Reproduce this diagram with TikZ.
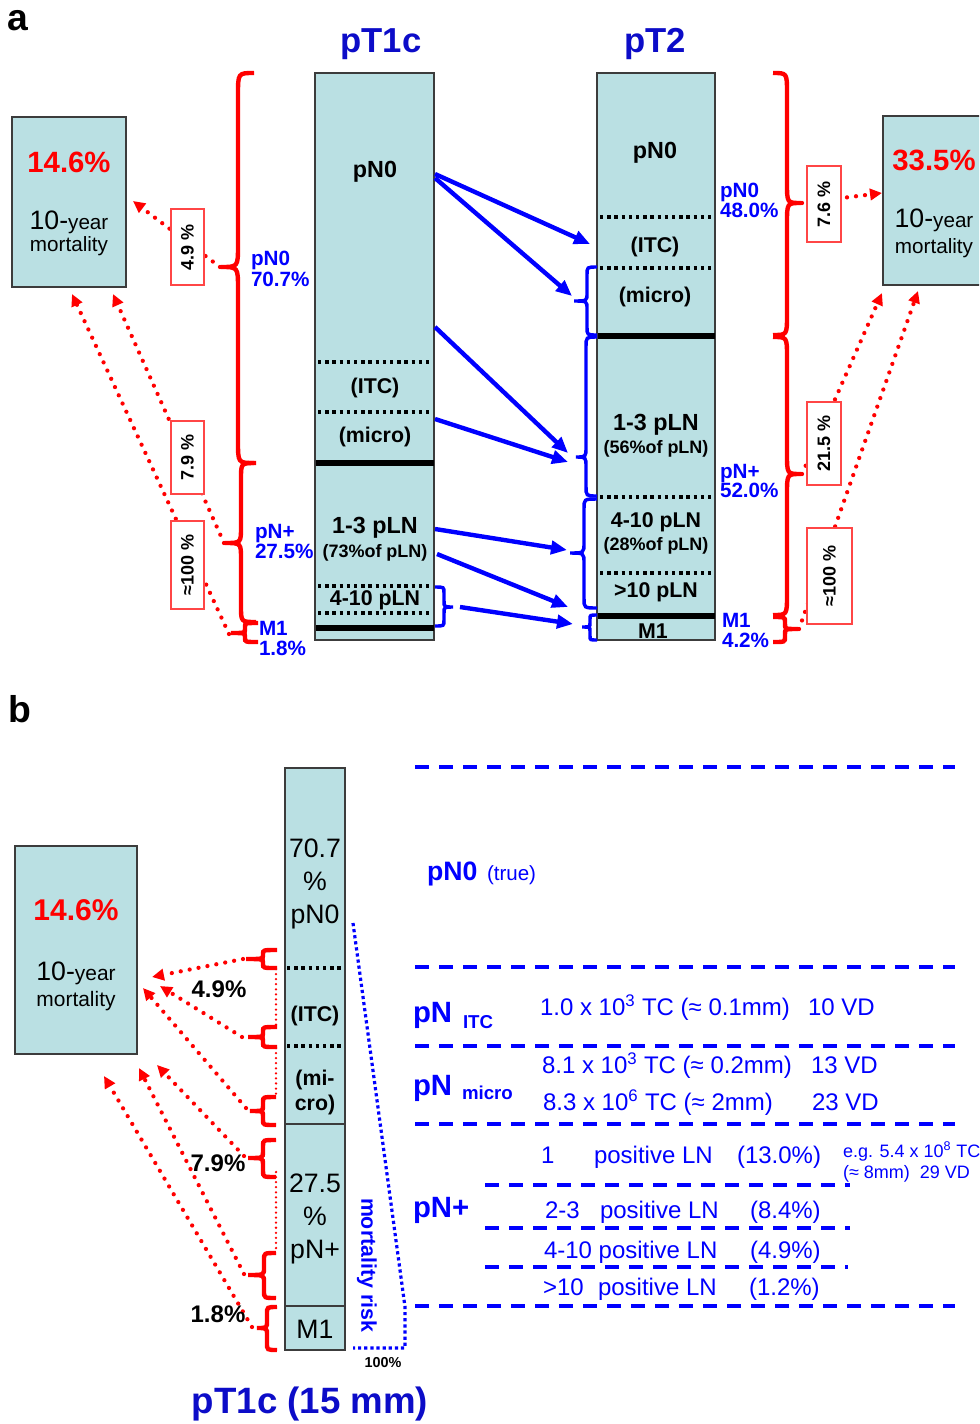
\documentclass[tikz,border=0pt]{standalone}
\usepackage{fontspec}
\setmainfont{Liberation Sans}
\usetikzlibrary{arrows.meta}
\definecolor{teal1}{RGB}{186,224,227}
\definecolor{bordg}{RGB}{60,60,60}
\definecolor{tblue}{RGB}{12,12,200}
\definecolor{rbord}{RGB}{255,70,70}
\newcommand{\fsz}[1]{\fontsize{#1}{#1}\selectfont}
\newcommand{\bracepath}[7]{(#1,#4) .. controls (#2,#4) .. (#2,{#4+#7}) -- (#2,{#5-#7}) .. controls (#2,#5) .. (#3,#5) .. controls (#2,#5) .. (#2,{#5+#7}) -- (#2,{#6-#7}) .. controls (#2,#6) .. (#1,#6)}
\tikzset{
  colbox/.style={draw=bordg, line width=0.9pt, fill=teal1, anchor=north west},
  seg/.style={anchor=base, font=\bfseries\fsz{16}},
  segbig/.style={anchor=base, font=\bfseries\fsz{17.5}},
  segsmall/.style={anchor=base, font=\bfseries\fsz{13.5}},
  segb/.style={anchor=base, font=\fsz{20}},
  septhick/.style={line width=4.5pt, black},
  septhin/.style={line width=0.9pt, bordg},
  sepdot/.style={line width=2.6pt, black, dash pattern=on 2.6pt off 2.8pt},
  bluelbl/.style={anchor=base west, text=blue, font=\bfseries\fsz{15.5}},
  redbrace/.style={draw=red, line width=3.3pt},
  bluebrace/.style={draw=blue, line width=2.6pt},
  barrow/.style={draw=blue, line width=3.3pt, -{Triangle[length=12pt,width=10pt]}},
  rdot/.style={draw=red, line width=3.2pt, line cap=round, dash pattern=on 0pt off 6.8pt, -{Triangle[length=9pt,width=8.5pt]}},
  rdotthin/.style={draw=red, line width=1.9pt, line cap=round, dash pattern=on 0pt off 3.8pt},
  rbox/.style={draw=rbord, line width=0.8pt, fill=white, rotate=90, font=\bfseries\fsz{13.5}},
  pct/.style={anchor=base, text=red, font=\bfseries\fsz{22}},
  mort/.style={anchor=base, font=\fsz{15.5}},
  bdash/.style={draw=blue, line width=2.5pt, dash pattern=on 10.5pt off 7.5pt},
  btxt/.style={anchor=base west, text=blue, font=\fsz{18}},
  bsmall/.style={anchor=base west, text=blue, font=\fsz{13.5}},
  bhead/.style={anchor=base west, text=blue, font=\bfseries\fsz{22}},
  bsub/.style={anchor=base west, text=blue, font=\bfseries\fsz{14}},
  blabel/.style={anchor=base, font=\bfseries\fsz{18}},
}
\begin{document}
\begin{tikzpicture}[x=0.75pt,y=-0.75pt, every node/.style={inner sep=0pt, outer sep=0pt}]
\useasboundingbox (0,0) rectangle (979,1424);
\clip (0,0) rectangle (979,1424);

% ================= panel a =================
\node (la) [anchor=base, font=\bfseries\fsz{28}] at (18,31) {a};
\node (tA) [anchor=base, text=tblue, font=\bfseries\fsz{26}] at (381,52) {pT1c};
\node (tB) [anchor=base, text=tblue, font=\bfseries\fsz{26}] at (655,52) {pT2};

\node (c1) [colbox, minimum width=89.25pt, minimum height=425.25pt] at (315,73) {};
\node (c2) [colbox, minimum width=88.5pt, minimum height=425.25pt] at (597,73) {};

\draw[sepdot] (318,362) -- (433,362);
\draw[sepdot] (318,412) -- (433,412);
\draw[septhick] (316,463) -- (434,463);
\draw[sepdot] (318,586) -- (433,586);
\draw[sepdot] (318,613) -- (433,613);
\draw[septhick] (316,628) -- (434,628);

\draw[sepdot] (600,217) -- (714,217);
\draw[sepdot] (600,268) -- (714,268);
\draw[septhick] (598,336) -- (715,336);
\draw[sepdot] (600,497) -- (714,497);
\draw[sepdot] (600,573) -- (714,573);
\draw[septhick] (598,616) -- (715,616);

\node (c1a) [segbig] at (375,177) {pN0};
\node (c1b) [seg] at (375,393) {(ITC)};
\node (c1c) [seg] at (375,442) {(micro)};
\node (c1d) [segbig] at (375,533) {1-3 pLN};
\node (c1e) [segsmall] at (375,557) {(73\%of pLN)};
\node (c1f) [seg] at (375,605) {4-10 pLN};

\node (c2a) [segbig] at (655,158) {pN0};
\node (c2b) [seg] at (655,252) {(ITC)};
\node (c2c) [seg] at (655,302) {(micro)};
\node (c2d) [segbig] at (656,430) {1-3 pLN};
\node (c2e) [segsmall] at (656,453) {(56\%of pLN)};
\node (c2f) [seg] at (656,527) {4-10 pLN};
\node (c2g) [segsmall] at (656,550) {(28\%of pLN)};
\node (c2h) [seg] at (656,597) {>10 pLN};
\node (c2i) [seg] at (653,638) {M1};

% mortality boxes
\node (mL) [colbox, minimum width=85.5pt, minimum height=127.5pt] at (12,117) {};
\node (mLp) [pct] at (69,172) {14.6\%};
\node (mLy) [anchor=base] at (69,229) {\fsz{20}10-\fsz{15.5}year};
\node (mLm) [mort] at (69,251) {mortality};

\node (mR) [colbox, minimum width=85.5pt, minimum height=126.75pt] at (883,116) {};
\node (mRp) [pct] at (934,170) {33.5\%};
\node (mRy) [anchor=base] at (934,227) {\fsz{20}10-\fsz{15.5}year};
\node (mRm) [mort] at (934,253) {mortality};

% blue labels
\node (l1a) [bluelbl] at (251,265) {pN0};
\node (l1b) [bluelbl] at (251,286) {70.7\%};
\node (l2a) [bluelbl] at (255,538) {pN+};
\node (l2b) [bluelbl] at (255,558) {27.5\%};
\node (l3a) [bluelbl] at (259,635) {M1};
\node (l3b) [bluelbl] at (259,655) {1.8\%};
\node (r1a) [bluelbl] at (720,197) {pN0};
\node (r1b) [bluelbl] at (720,217) {48.0\%};
\node (r2a) [bluelbl] at (720,478) {pN+};
\node (r2b) [bluelbl] at (720,497) {52.0\%};
\node (r3a) [bluelbl] at (722,627) {M1};
\node (r3b) [bluelbl] at (722,647) {4.2\%};

% blue arrows
\coordinate (s1) at (435,174); \coordinate (e1) at (590,244);
\coordinate (s2) at (435,178); \coordinate (e2) at (572,296);
\coordinate (s3) at (435,327); \coordinate (e3) at (568,453);
\coordinate (s4) at (435,419); \coordinate (e4) at (568,462);
\coordinate (s5) at (435,529); \coordinate (e5) at (567,550);
\coordinate (s6) at (437,554); \coordinate (e6) at (568,607);
\coordinate (s7) at (460,607); \coordinate (e7) at (573,624);
\draw[barrow] (s1) -- (e1);
\draw[barrow] (s2) -- (e2);
\draw[barrow] (s3) -- (e3);
\draw[barrow] (s4) -- (e4);
\draw[barrow] (s5) -- (e5);
\draw[barrow] (s6) -- (e6);
\draw[barrow] (s7) -- (e7);

% blue braces
\draw[bluebrace] \bracepath{435}{444}{453}{587}{607}{626}{6};
\draw[bluebrace] \bracepath{597}{587}{574}{267}{301}{335}{8};
\draw[bluebrace] \bracepath{597}{586}{576}{337}{457}{496}{10};
\draw[bluebrace] \bracepath{597}{584}{570}{499}{553}{608}{10};
\draw[bluebrace] \bracepath{597}{590}{582}{615}{627}{640}{4};

% red braces
\draw[redbrace] \bracepath{254}{238}{221}{73}{267}{463}{22};
\draw[redbrace] \bracepath{256}{241}{225}{463}{543}{622}{16};
\draw[redbrace] \bracepath{258}{245}{231}{623}{633}{642}{4};
\draw[redbrace] \bracepath{773}{787}{801}{73}{203}{335}{20};
\draw[redbrace] \bracepath{773}{787}{801}{337}{474}{615}{20};
\draw[redbrace] \bracepath{773}{785}{798}{617}{629}{642}{5};

% red dotted arrows panel a
\coordinate (bL1) at (220,267); \coordinate (tL1) at (133,201);
\coordinate (bL2) at (224,543); \coordinate (tL2) at (113,294);
\coordinate (bL3) at (229,634); \coordinate (tL3) at (72,294);
\coordinate (bR1) at (802,203); \coordinate (tR1) at (882,193);
\coordinate (bR2) at (802,474); \coordinate (tR2) at (882,293);
\coordinate (bR3) at (799,629); \coordinate (tR3) at (918,291);
\draw[rdot] (bL1) -- (tL1);
\draw[rdot] (bL2) -- (tL2);
\draw[rdot] (bL3) -- (tL3);
\draw[rdot] (bR1) -- (tR1);
\draw[rdot] (bR2) -- (tR2);
\draw[rdot] (bR3) -- (tR3);

\node (x49) [rbox, minimum width=57pt, minimum height=24.75pt] at (187.5,247) {4.9 \%};
\node (x79) [rbox, minimum width=54.75pt, minimum height=24.75pt] at (187.5,457.5) {7.9 \%};
\node (x100a) [rbox, minimum width=66pt, minimum height=24.75pt] at (187.5,565) {≈100 \%};
\node (x76) [rbox, minimum width=57pt, minimum height=25.5pt] at (824,204) {7.6 \%};
\node (x215) [rbox, minimum width=62.25pt, minimum height=25.5pt] at (824,443.5) {21.5 \%};
\node (x100b) [rbox, minimum width=72pt, minimum height=33.75pt] at (829.5,576) {≈100 \%};

% ================= panel b =================
\node (lb) [anchor=base, font=\bfseries\fsz{28}] at (20,722) {b};

\node (cb) [colbox, minimum width=45pt, minimum height=436.5pt] at (285,768) {};
\draw[sepdot] (287,968) -- (344,968);
\draw[sepdot] (287,1046) -- (344,1046);
\draw[septhin] (285,1124) -- (345,1124);
\draw[septhin] (285,1306) -- (345,1306);
\node (cb1) [segb] at (315,857) {70.7};
\node (cb2) [segb] at (315,890) {\%};
\node (cb3) [segb] at (315,923) {pN0};
\node (cb4) [seg] at (315,1021) {(ITC)};
\node (cb5) [seg] at (315,1085) {(mi-};
\node (cb6) [seg] at (315,1110) {cro)};
\node (cb7) [segb] at (315,1192) {27.5};
\node (cb8) [segb] at (315,1225) {\%};
\node (cb9) [segb] at (315,1258) {pN+};
\node (cb10) [segb] at (315,1338) {M1};

\node (mB) [colbox, minimum width=91.5pt, minimum height=156pt] at (15,846) {};
\node (mBp) [pct, font=\bfseries\fsz{22.5}] at (76,920) {14.6\%};
\node (mBy) [anchor=base] at (76,980) {\fsz{20}10-\fsz{15.7}year};
\node (mBm) [mort, font=\fsz{15.7}] at (76,1006) {mortality};

% red thin vertical dotted
\coordinate (v1a) at (276,969); \coordinate (v1b) at (276,1027);
\coordinate (v2a) at (276,1048); \coordinate (v2b) at (276,1097);
\coordinate (v3a) at (276,1172); \coordinate (v3b) at (276,1250);
\draw[rdotthin] (v1a) -- (v1b);
\draw[rdotthin] (v2a) -- (v2b);
\draw[rdotthin] (v3a) -- (v3b);

% red braces panel b
\draw[redbrace] \bracepath{277}{263}{246}{950}{959}{968}{4};
\draw[redbrace] \bracepath{277}{263}{248}{1027}{1037}{1047}{4};
\draw[redbrace] \bracepath{276}{263}{250}{1097}{1111}{1125}{5};
\draw[redbrace] \bracepath{276}{263}{248}{1140}{1158}{1177}{6};
\draw[redbrace] \bracepath{276}{264}{248}{1253}{1275}{1298}{7};
\draw[redbrace] \bracepath{277}{267}{257}{1307}{1328}{1350}{7};

% red dotted arrows panel b
\coordinate (pb1) at (243,959); \coordinate (qb1) at (152,977);
\coordinate (pb2) at (242,1037); \coordinate (qb2) at (160,986);
\coordinate (pb3) at (246,1108); \coordinate (qb3) at (143,988);
\coordinate (pb4) at (244,1156); \coordinate (qb4) at (157,1065);
\coordinate (pb5) at (244,1274); \coordinate (qb5) at (139,1068);
\coordinate (pb6) at (252,1327); \coordinate (qb6) at (104,1076);
\draw[rdot] (pb1) -- (qb1);
\draw[rdot] (pb2) -- (qb2);
\draw[rdot] (pb3) -- (qb3);
\draw[rdot] (pb4) -- (qb4);
\draw[rdot] (pb5) -- (qb5);
\draw[rdot] (pb6) -- (qb6);

\node (k49) [blabel] at (219,997) {4.9\%};
\node (k79) [blabel] at (218,1171) {7.9\%};
\node (k18) [blabel] at (218,1322) {1.8\%};

% mortality risk
\coordinate (m1) at (353,923); \coordinate (m2) at (405,1307);
\coordinate (m3) at (405,1348); \coordinate (m4) at (353,1348);
\draw[blue, line width=2.4pt, dash pattern=on 2.4pt off 2.2pt] (m1) -- (m2) -- (m3) -- (m4);
\node (mrisk) [rotate=-90, text=blue, font=\bfseries\fsz{16}] at (367,1265) {mortality risk};
\node (h100) [anchor=base, font=\bfseries\fsz{10.8}] at (383,1367) {100\%};

\node (tC) [anchor=base, text=tblue, font=\bfseries\fsz{27.5}] at (310,1413) {pT1c (15 mm)};

% dashed lines
\draw[bdash] (415,767) -- (955,767);
\draw[bdash] (415,967) -- (955,967);
\draw[bdash] (415,1046) -- (955,1046);
\draw[bdash] (415,1124) -- (955,1124);
\draw[bdash] (485,1185) -- (850,1185);
\draw[bdash] (485,1228) -- (850,1228);
\draw[bdash] (485,1267) -- (848,1267);
\draw[bdash] (415,1306) -- (955,1306);

% right texts
\node (n0) [anchor=base west, text=blue, font=\bfseries\fsz{20}] at (427,880) {pN0};
\node (n0t) [anchor=base west, text=blue, font=\fsz{15.4}] at (487,880) {(true)};
\node (ni) [bhead] at (413,1022) {pN};
\node (nis) [bsub] at (463,1028) {ITC};
\node (ni1) [btxt] at (540,1015) {1.0 x 10\textsuperscript{3} TC (≈ 0.1mm)};
\node (ni2) [btxt] at (808,1015) {10 VD};
\node (nm) [bhead] at (413,1095) {pN};
\node (nms) [bsub] at (462,1099) {micro};
\node (nm1) [btxt] at (542,1073) {8.1 x 10\textsuperscript{3} TC (≈ 0.2mm)};
\node (nm2) [btxt] at (811,1073) {13 VD};
\node (nm3) [btxt] at (543,1110) {8.3 x 10\textsuperscript{6} TC (≈ 2mm)};
\node (nm4) [btxt] at (812,1110) {23 VD};
\node (np) [bhead] at (413,1217) {pN+};
\node (p1a) [btxt] at (541,1163) {1};
\node (p1b) [btxt] at (594,1163) {positive LN};
\node (p1c) [btxt] at (737,1163) {(13.0\%)};
\node (p1d) [bsmall] at (843,1157) {e.g. 5.4 x 10\textsuperscript{8} TC};
\node (p1e) [bsmall] at (843,1178) {(≈ 8mm)\ \ 29 VD};
\node (p2a) [btxt] at (545,1218) {2-3};
\node (p2b) [btxt] at (600,1218) {positive LN};
\node (p2c) [btxt] at (750,1218) {(8.4\%)};
\node (p3a) [btxt] at (544,1258) {4-10 positive LN};
\node (p3c) [btxt] at (750,1258) {(4.9\%)};
\node (p4a) [btxt] at (543,1295) {>10};
\node (p4b) [btxt] at (598,1295) {positive LN};
\node (p4c) [btxt] at (749,1295) {(1.2\%)};
\end{tikzpicture}
\end{document}
